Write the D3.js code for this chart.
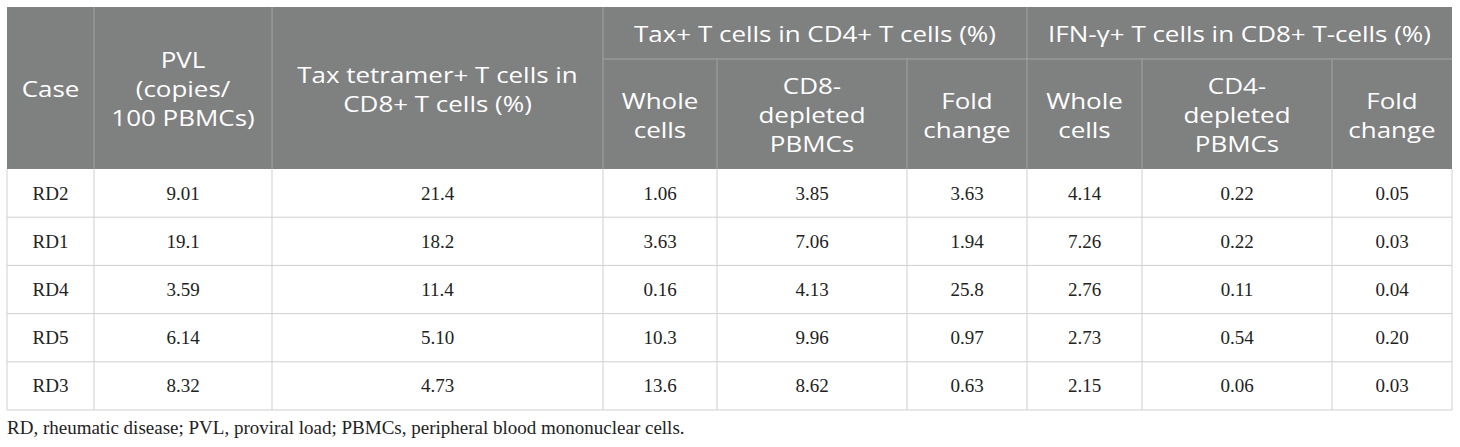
<!DOCTYPE html>
<html>
<head>
<meta charset="utf-8">
<script src="https://cdn.jsdelivr.net/npm/d3@7"></script>
<style>
  html, body { margin: 0; padding: 0; background: #fff; }
  svg { display: block; }
</style>
</head>
<body>
<svg width="1460" height="447"></svg>
<script>
// table values as printed
const cases = ["RD2", "RD1", "RD4", "RD5", "RD3"];
const pvl = ["9.01", "19.1", "3.59", "6.14", "8.32"];
const tetramer = ["21.4", "18.2", "11.4", "5.10", "4.73"];
const taxWhole = ["1.06", "3.63", "0.16", "10.3", "13.6"];
const taxDepleted = ["3.85", "7.06", "4.13", "9.96", "8.62"];
const taxFold = ["3.63", "1.94", "25.8", "0.97", "0.63"];
const ifnWhole = ["4.14", "7.26", "2.76", "2.73", "2.15"];
const ifnDepleted = ["0.22", "0.22", "0.11", "0.54", "0.06"];
const ifnFold = ["0.05", "0.03", "0.04", "0.20", "0.03"];

const columnLabels = [
  ["Case"],
  ["PVL", "(copies/", "100 PBMCs)"],
  ["Tax tetramer+ T cells in", "CD8+ T cells (%)"],
  ["Whole", "cells"],
  ["CD8-", "depleted", "PBMCs"],
  ["Fold", "change"],
  ["Whole", "cells"],
  ["CD4-", "depleted", "PBMCs"],
  ["Fold", "change"]
];
const groupLabels = ["Tax+ T cells in CD4+ T cells (%)", "IFN-\u03b3+ T cells in CD8+ T-cells (%)"];
const groupSpans = [[3, 6], [6, 9]];
const footnote = "RD, rheumatic disease; PVL, proviral load; PBMCs, peripheral blood mononuclear cells.";

const columns = [cases, pvl, tetramer, taxWhole, taxDepleted, taxFold, ifnWhole, ifnDepleted, ifnFold];

// layout
const colEdges = [7, 94, 272, 603, 717, 907, 1027, 1142, 1332, 1452];
const headTop = 7, groupBottom = 59, headBottom = 169, tableBottom = 410;
const headFill = "#7f8080", headLine = "#a3a4a4", gridLine = "#cfcfcf";
const lineH = 29;
const stretch = 1.18;

const x = d3.scaleLinear().domain(d3.range(colEdges.length)).range(colEdges);
const y = d3.scaleBand().domain(cases).range([headBottom, tableBottom]);

const svg = d3.select("svg");

// header block
svg.append("rect")
  .attr("x", x(0)).attr("y", headTop)
  .attr("width", x(9) - x(0)).attr("height", headBottom - headTop)
  .attr("fill", headFill);

// header dividers
const headDiv = svg.append("g").attr("stroke", headLine).attr("stroke-width", 1);
d3.range(1, 9).forEach(i => {
  const inGroup = groupSpans.some(s => i > s[0] && i < s[1]);
  headDiv.append("line")
    .attr("x1", x(i)).attr("x2", x(i))
    .attr("y1", inGroup ? groupBottom : headTop).attr("y2", headBottom);
});
groupSpans.forEach(s => {
  headDiv.append("line")
    .attr("x1", x(s[0])).attr("x2", x(s[1]))
    .attr("y1", groupBottom).attr("y2", groupBottom);
});

function headText(cx, cy, lines) {
  const first = cy + 9 - (lines.length - 1) * lineH / 2;
  lines.forEach((t, k) => {
    svg.append("text")
      .attr("transform", `translate(${cx},${first + k * lineH}) scale(${stretch},1)`)
      .attr("text-anchor", "middle")
      .attr("font-family", "'Open Sans', sans-serif")
      .attr("font-size", 22)
      .attr("fill", "#fff")
      .text(t);
  });
}

groupLabels.forEach((g, k) => {
  const s = groupSpans[k];
  headText((x(s[0]) + x(s[1])) / 2, (headTop + groupBottom) / 2, [g]);
});

columnLabels.forEach((lines, i) => {
  const grouped = groupSpans.some(s => i >= s[0] && i < s[1]);
  const y0 = grouped ? groupBottom : headTop;
  headText((x(i) + x(i + 1)) / 2, (y0 + headBottom) / 2, lines);
});

// body grid
const grid = svg.append("g").attr("stroke", gridLine).attr("stroke-width", 1).attr("fill", "none");
cases.forEach(c => {
  grid.append("line")
    .attr("x1", x(0)).attr("x2", x(9))
    .attr("y1", y(c) + y.bandwidth()).attr("y2", y(c) + y.bandwidth());
});
d3.range(0, 10).forEach(i => {
  grid.append("line")
    .attr("x1", x(i)).attr("x2", x(i))
    .attr("y1", headBottom).attr("y2", tableBottom);
});

// body values
columns.forEach((vals, i) => {
  svg.append("g").selectAll("text")
    .data(vals)
    .join("text")
    .attr("x", (x(i) + x(i + 1)) / 2)
    .attr("y", (d, r) => y(cases[r]) + y.bandwidth() / 2 + 6.5)
    .attr("text-anchor", "middle")
    .attr("font-family", "'Liberation Serif', serif")
    .attr("font-size", 19)
    .attr("fill", "#222")
    .text(d => d);
});

svg.append("text")
  .attr("x", x(0)).attr("y", 434)
  .attr("font-family", "'Liberation Serif', serif")
  .attr("font-size", 19)
  .attr("fill", "#222")
  .text(footnote);
</script>
</body>
</html>
